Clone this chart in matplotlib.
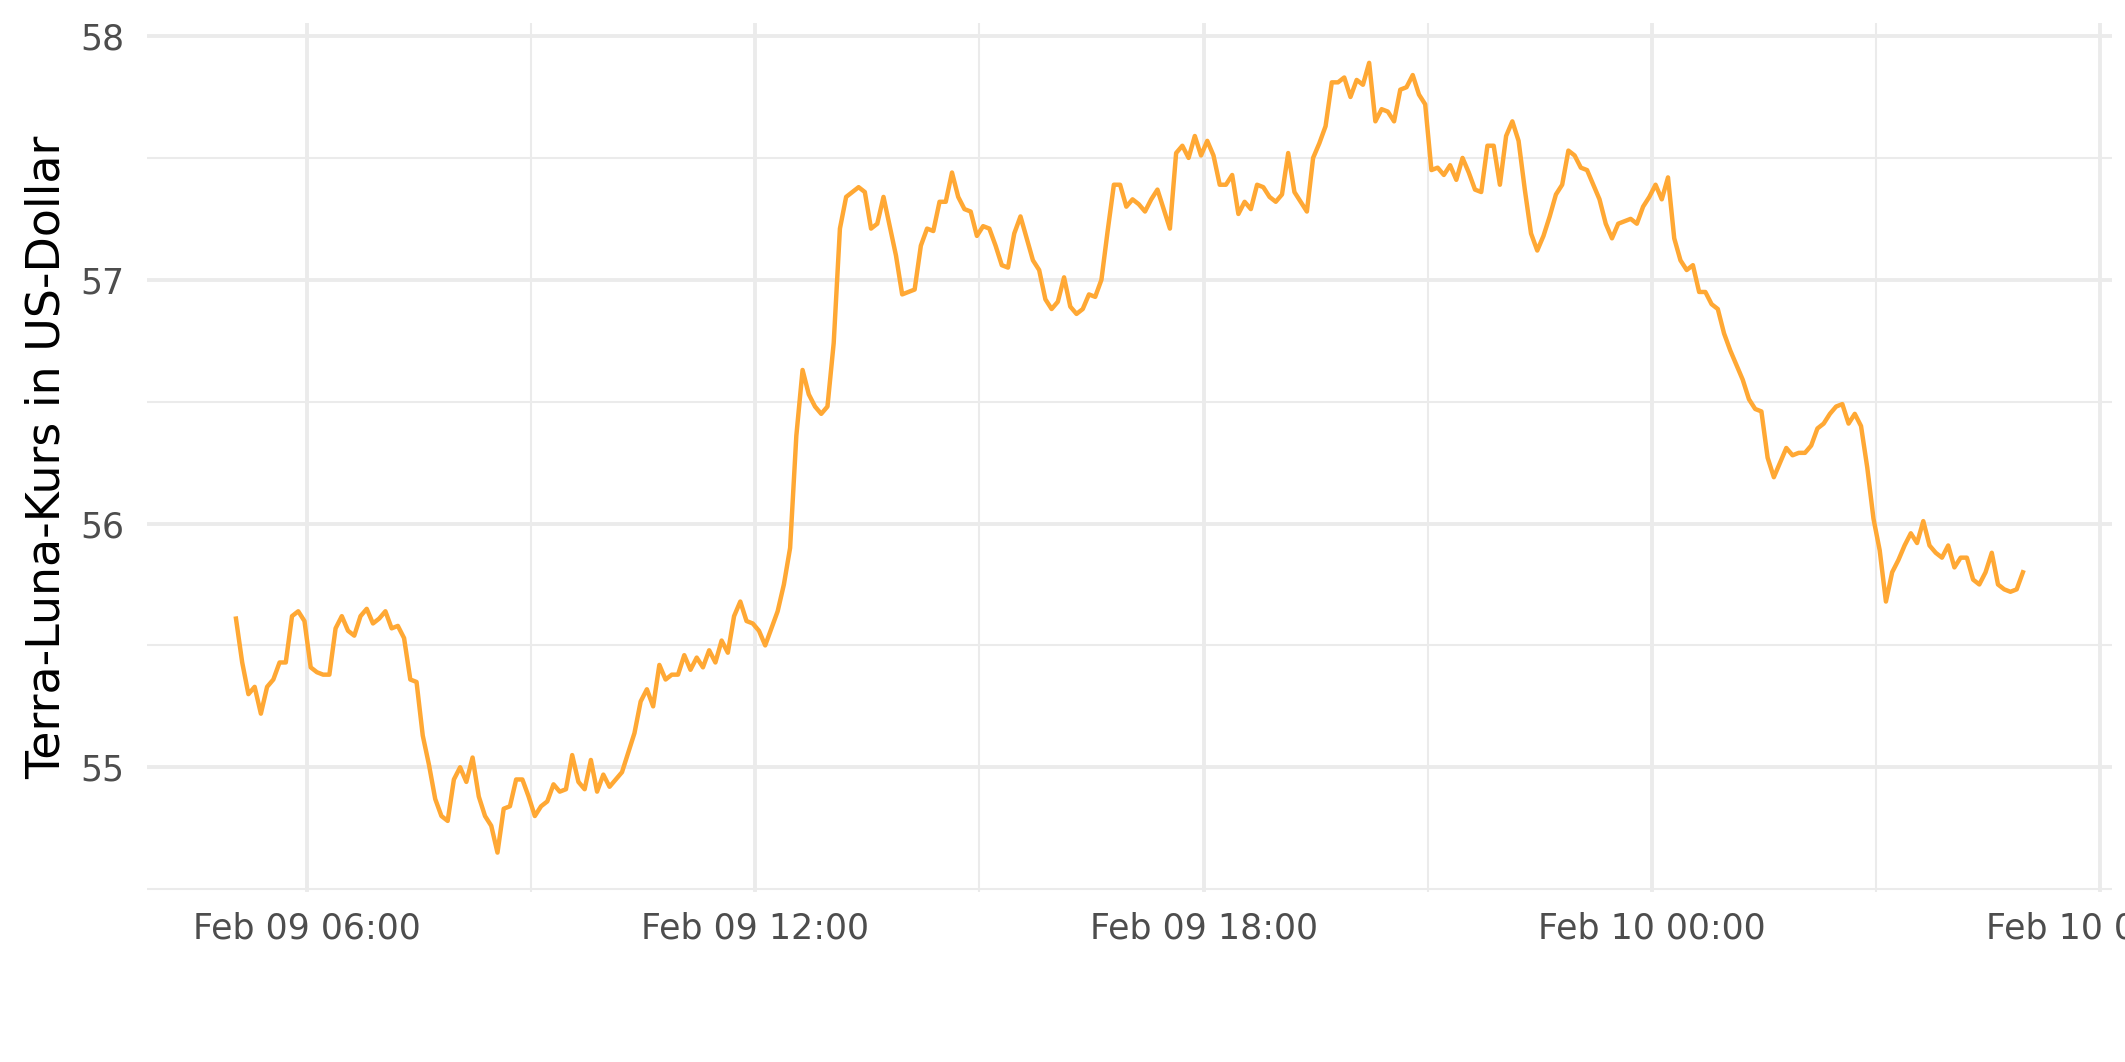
#!/usr/bin/env python3

from matplotlib.dates import DateFormatter, HourLocator
from matplotlib.pyplot import close, savefig, subplots
from matplotlib.ticker import MultipleLocator
from pandas import date_range

START = "2022-02-09 05:03"
STEP = "5min"
Y_LABEL = "Terra-Luna-Kurs in US-Dollar"
LINE_COLOR = "#FFA834"
GRID_COLOR = "#EBEBEB"
TEXT_COLOR = "#4D4D4D"

# 5-minute closes
PRICE = [
    55.61, 55.43, 55.30, 55.33, 55.22, 55.33, 55.36, 55.43, 55.43, 55.62,
    55.64, 55.60, 55.41, 55.39, 55.38, 55.38, 55.57, 55.62, 55.56, 55.54,
    55.62, 55.65, 55.59, 55.61, 55.64, 55.57, 55.58, 55.53, 55.36, 55.35,
    55.13, 55.01, 54.87, 54.80, 54.78, 54.95, 55.00, 54.94, 55.04, 54.88,
    54.80, 54.76, 54.65, 54.83, 54.84, 54.95, 54.95, 54.88, 54.80, 54.84,
    54.86, 54.93, 54.90, 54.91, 55.05, 54.94, 54.91, 55.03, 54.90, 54.97,
    54.92, 54.95, 54.98, 55.06, 55.14, 55.27, 55.32, 55.25, 55.42, 55.36,
    55.38, 55.38, 55.46,
    55.40, 55.45, 55.41, 55.48, 55.43, 55.52, 55.47, 55.62, 55.68, 55.60,
    55.59, 55.56, 55.50, 55.57, 55.64, 55.75, 55.90, 56.36, 56.63, 56.53,
    56.48, 56.45, 56.48, 56.74, 57.21, 57.34, 57.36, 57.38, 57.36, 57.21,
    57.23, 57.34, 57.22, 57.10, 56.94, 56.95, 56.96, 57.14, 57.21, 57.20,
    57.32, 57.32, 57.44, 57.34, 57.29, 57.28, 57.18, 57.22, 57.21, 57.14,
    57.06, 57.05, 57.19, 57.26, 57.17, 57.08, 57.04, 56.92, 56.88, 56.91,
    57.01, 56.89, 56.86, 56.88, 56.94, 56.93, 57.00, 57.20, 57.39, 57.39,
    57.30, 57.33,
    57.31, 57.28, 57.33, 57.37, 57.29, 57.21, 57.52, 57.55, 57.50, 57.59,
    57.51, 57.57, 57.51, 57.39, 57.39, 57.43, 57.27, 57.32, 57.29, 57.39,
    57.38, 57.34, 57.32, 57.35, 57.52, 57.36, 57.32, 57.28, 57.50, 57.56,
    57.63, 57.81, 57.81, 57.83, 57.75, 57.82, 57.80, 57.89, 57.65, 57.70,
    57.69, 57.65, 57.78, 57.79, 57.84, 57.76, 57.72, 57.45, 57.46, 57.43,
    57.47, 57.41, 57.50, 57.44, 57.37, 57.36, 57.55, 57.55, 57.39, 57.59,
    57.65, 57.57, 57.37, 57.19, 57.12, 57.18, 57.26, 57.35, 57.39, 57.53,
    57.51, 57.46, 57.45,
    57.39, 57.33, 57.23, 57.17, 57.23, 57.24, 57.25, 57.23, 57.30, 57.34,
    57.39, 57.33, 57.42, 57.17, 57.08, 57.04, 57.06, 56.95, 56.95, 56.90,
    56.88, 56.78, 56.71, 56.65, 56.59, 56.51, 56.47, 56.46, 56.27, 56.19,
    56.25, 56.31, 56.28, 56.29, 56.29, 56.32, 56.39, 56.41, 56.45, 56.48,
    56.49, 56.41, 56.45, 56.40, 56.23, 56.02, 55.89, 55.68, 55.80, 55.85,
    55.91, 55.96, 55.92, 56.01, 55.91, 55.88, 55.86, 55.91, 55.82, 55.86,
    55.86, 55.77, 55.75, 55.80, 55.88, 55.75, 55.73, 55.72, 55.73, 55.80,
]


def do_plot(filename):
    times = date_range(START, periods=len(PRICE), freq=STEP)
    (fig, ax) = subplots(figsize=(10.625, 5.31), dpi=200)
    fig.subplots_adjust(left=0.069, right=0.994, top=0.978, bottom=0.160)
    ax.plot(times, PRICE, color=LINE_COLOR, lw=1.6, zorder=3)
    ax.margins(x=0.05, y=0.05)

    ax.xaxis.set_major_locator(HourLocator(byhour=[0, 6, 12, 18]))
    ax.xaxis.set_minor_locator(HourLocator(byhour=[3, 9, 15, 21]))
    ax.xaxis.set_major_formatter(DateFormatter("%b %d %H:%M"))
    ax.yaxis.set_major_locator(MultipleLocator(1.0))
    ax.yaxis.set_minor_locator(MultipleLocator(0.5))

    ax.grid(which="major", color=GRID_COLOR, lw=1.4)
    ax.grid(which="minor", color=GRID_COLOR, lw=0.75)
    ax.set_axisbelow(True)
    for edge in ["top", "right", "left", "bottom"]:
        ax.spines[edge].set_visible(False)
    ax.tick_params(which="both", length=0)
    ax.tick_params(axis="x", labelsize=12.5, labelcolor=TEXT_COLOR, pad=7)
    ax.tick_params(axis="y", labelsize=12.5, labelcolor=TEXT_COLOR, pad=8)
    ax.set_ylabel(Y_LABEL, fontsize=16.5, color="black", labelpad=4)

    savefig(filename)
    close()


def main():
    do_plot("out.png")


if __name__ == "__main__":
    main()
